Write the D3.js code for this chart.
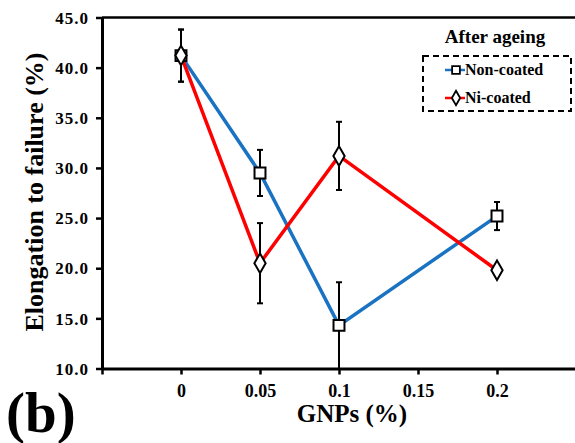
<!DOCTYPE html>
<html>
<head>
<meta charset="utf-8">
<script src="https://cdn.jsdelivr.net/npm/d3@7/dist/d3.min.js"></script>
<style>
  html, body { margin: 0; padding: 0; background: #fff; }
  svg { display: block; }
</style>
</head>
<body>
<svg id="chart" width="575" height="443" font-family="Liberation Serif" font-weight="bold"></svg>
<script>
// GNP content (%) and elongation to failure (%) after ageing
const gnp = [0, 0.05, 0.1, 0.2];
const nonCoated = [41.2, 29.5, 14.3, 25.2];
const nonCoatedErr = [2.6, 2.3, 4.3, 1.4];
const niCoated = [41.2, 20.5, 31.2, 19.8];
const niCoatedErr = [2.6, 4.0, 3.4, 0.3];
const xTicks = [0, 0.05, 0.1, 0.15, 0.2];
const yTicks = [10, 15, 20, 25, 30, 35, 40, 45];

const FONT = "Liberation Serif";
const svg = d3.select("#chart");
const W = 575, H = 443;
const plotLeft = 102, plotTop = 17.5, plotBottom = 368.5;

const x = d3.scaleLinear().domain([-0.05, 0.25]).range([plotLeft, plotLeft + 474]);
const y = d3.scaleLinear().domain([10, 45]).range([plotBottom, plotTop]);

// frame: top border
svg.append("line")
  .attr("x1", plotLeft).attr("x2", W + 2)
  .attr("y1", plotTop).attr("y2", plotTop)
  .attr("stroke", "#000").attr("stroke-width", 2.5);

// x axis
const xAxis = svg.append("g")
  .attr("transform", `translate(0,${plotBottom})`)
  .call(d3.axisBottom(x).tickValues([-0.05].concat(xTicks)).tickSize(6).tickSizeOuter(0)
    .tickFormat(d => d < 0 ? "" : String(d)));
xAxis.attr("font-family", FONT).attr("font-size", 18).attr("font-weight", "bold");
xAxis.select(".domain").attr("stroke-width", 3);
xAxis.selectAll(".tick line").attr("stroke-width", 2.5);
xAxis.selectAll(".tick text").attr("y", 28).attr("dy", 0);

// y axis
const yAxis = svg.append("g")
  .attr("transform", `translate(${plotLeft},0)`)
  .call(d3.axisLeft(y).tickValues(yTicks).tickSize(6).tickSizeOuter(0)
    .tickFormat(d3.format(".1f")));
yAxis.attr("font-family", FONT).attr("font-size", 17).attr("font-weight", "bold");
yAxis.select(".domain").attr("stroke-width", 3);
yAxis.selectAll(".tick line").attr("stroke-width", 2.5);
yAxis.selectAll(".tick text").attr("x", -13).attr("dy", "0.34em").attr("letter-spacing", 1);

const plot = svg.append("g");

function errorBars(vals, errs) {
  const g = plot.append("g").attr("stroke", "#000").attr("stroke-width", 2);
  gnp.forEach((g0, i) => {
    const hi = vals[i] + errs[i];
    const lo = Math.max(10, vals[i] - errs[i]);
    g.append("line").attr("x1", x(g0)).attr("x2", x(g0)).attr("y1", y(hi)).attr("y2", y(lo));
    g.append("line").attr("x1", x(g0) - 3).attr("x2", x(g0) + 3).attr("y1", y(hi)).attr("y2", y(hi));
    if (vals[i] - errs[i] > 10)
      g.append("line").attr("x1", x(g0) - 3).attr("x2", x(g0) + 3).attr("y1", y(lo)).attr("y2", y(lo));
  });
}

errorBars(nonCoated, nonCoatedErr);
errorBars(niCoated, niCoatedErr);

const line = d3.line().x((d, i) => x(gnp[i])).y(d => y(d));

plot.append("path").datum(nonCoated).attr("d", line)
  .attr("fill", "none").attr("stroke", "#1a73c2").attr("stroke-width", 3.5);
plot.append("path").datum(niCoated).attr("d", line)
  .attr("fill", "none").attr("stroke", "#ff0000").attr("stroke-width", 3.5);

const sq = d3.symbol().type(d3.symbolSquare).size(120);
const dm = d3.symbol().type(d3.symbolDiamond).size(110);

plot.selectAll(".sq").data(nonCoated).join("path")
  .attr("d", sq)
  .attr("transform", (d, i) => `translate(${x(gnp[i])},${y(d)})`)
  .attr("fill", "#fff").attr("stroke", "#000").attr("stroke-width", 2);

plot.selectAll(".dm").data(niCoated).join("path")
  .attr("d", dm)
  .attr("transform", (d, i) => `translate(${x(gnp[i])},${y(d)})`)
  .attr("fill", "#fff").attr("stroke", "#000").attr("stroke-width", 2);

// axis titles
svg.append("text")
  .attr("transform", "translate(43,192) rotate(-90)")
  .attr("text-anchor", "middle").attr("font-size", 26)
  .attr("font-family", FONT).attr("font-weight", "bold")
  .text("Elongation to failure (%)");

svg.append("text")
  .attr("x", 352).attr("y", 422)
  .attr("text-anchor", "middle").attr("font-size", 25)
  .attr("font-family", FONT).attr("font-weight", "bold")
  .text("GNPs (%)");

svg.append("text")
  .attr("x", 6).attr("y", 432)
  .attr("font-size", 57)
  .attr("font-family", FONT).attr("font-weight", "bold")
  .text("(b)");

// legend
const lg = svg.append("g").attr("font-family", FONT).attr("font-weight", "bold");
lg.append("text").attr("x", 495).attr("y", 43).attr("text-anchor", "middle")
  .attr("font-size", 19).text("After ageing");
lg.append("rect").attr("x", 423).attr("y", 56).attr("width", 148).attr("height", 55)
  .attr("fill", "none").attr("stroke", "#000").attr("stroke-width", 2).attr("stroke-dasharray", "6,4");

const entries = [
  { name: "Non-coated", color: "#1a73c2", type: d3.symbolSquare, y: 70 },
  { name: "Ni-coated", color: "#ff0000", type: d3.symbolDiamond, y: 98 }
];
entries.forEach(e => {
  lg.append("line").attr("x1", 445).attr("x2", 465).attr("y1", e.y).attr("y2", e.y)
    .attr("stroke", e.color).attr("stroke-width", 2.5);
  lg.append("path").attr("d", d3.symbol().type(e.type).size(60))
    .attr("transform", `translate(456,${e.y})`)
    .attr("fill", "#fff").attr("stroke", "#000").attr("stroke-width", 1.8);
  lg.append("text").attr("x", 465).attr("y", e.y + 5).attr("font-size", 16).text(e.name);
});
</script>
</body>
</html>
